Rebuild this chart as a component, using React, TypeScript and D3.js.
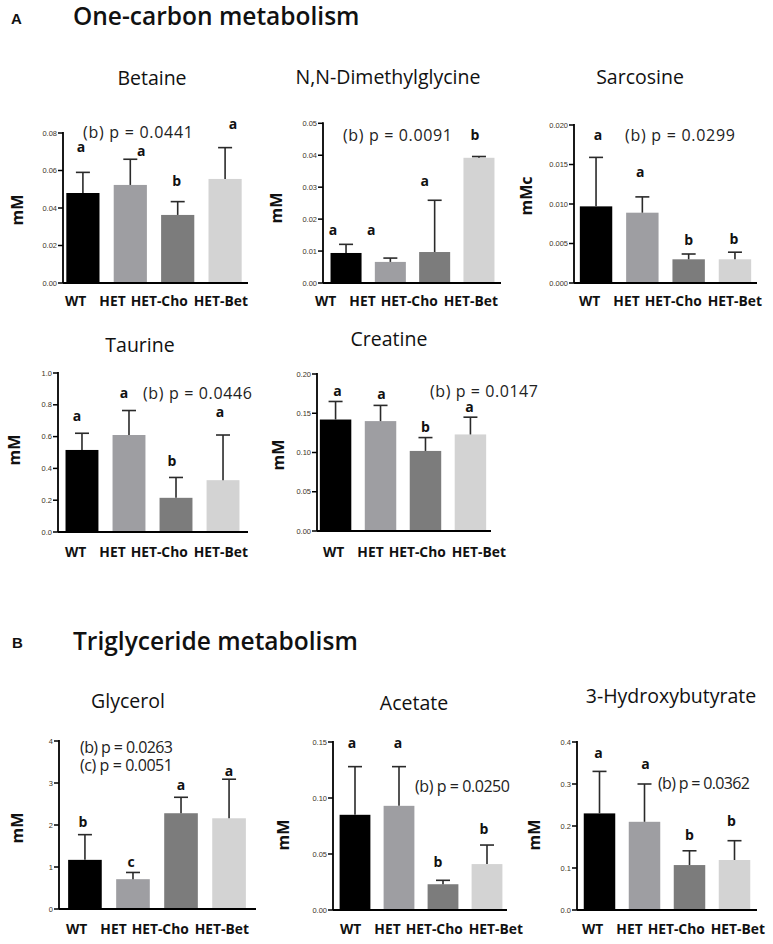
import React from "react";
import * as d3 from "d3";

// ---------- data ----------
const categories = ["WT", "HET", "HET-Cho", "HET-Bet"];

const betaineMean = [0.048, 0.0523, 0.0363, 0.0555];
const betaineSD = [0.011, 0.0137, 0.0071, 0.0167];
const betaineLetters = ["a", "a", "b", "a"];
const betaineLetterY = [0.0699, 0.0677, 0.0517, 0.0821];
const betaineP = ["(b) p = 0.0441"];

const dmgMean = [0.0094, 0.0066, 0.0097, 0.0392];
const dmgSD = [0.0027, 0.0012, 0.0162, 0.0004];
const dmgLetters = ["a", "a", "a", "b"];
const dmgLetterY = [0.015, 0.015, 0.0304, 0.0448];
const dmgP = ["(b) p = 0.0091"];

const sarcMean = [0.0097, 0.0089, 0.003, 0.003];
const sarcSD = [0.0062, 0.002, 0.00067, 0.0009];
const sarcLetters = ["a", "a", "b", "b"];
const sarcLetterY = [0.0181, 0.0134, 0.0048, 0.0049];
const sarcP = ["(b) p = 0.0299"];

const taurineMean = [0.516, 0.61, 0.215, 0.326];
const taurineSD = [0.105, 0.154, 0.128, 0.284];
const taurineLetters = ["a", "a", "b", "a"];
const taurineLetterY = [0.698, 0.843, 0.415, 0.723];
const taurineP = ["(b) p = 0.0446"];

const creatineMean = [0.142, 0.14, 0.102, 0.123];
const creatineSD = [0.023, 0.02, 0.017, 0.022];
const creatineLetters = ["a", "a", "b", "a"];
const creatineLetterY = [0.172, 0.168, 0.126, 0.152];
const creatineP = ["(b) p = 0.0147"];

const glycerolMean = [1.17, 0.71, 2.28, 2.16];
const glycerolSD = [0.6, 0.16, 0.38, 0.93];
const glycerolLetters = ["b", "c", "a", "a"];
const glycerolLetterY = [1.95, 1.0, 2.83, 3.17];
const glycerolP = ["(b) p = 0.0263", "(c) p = 0.0051"];

const acetateMean = [0.085, 0.093, 0.023, 0.041];
const acetateSD = [0.043, 0.035, 0.0035, 0.017];
const acetateLetters = ["a", "a", "b", "b"];
const acetateLetterY = [0.1446, 0.1446, 0.0384, 0.0679];
const acetateP = ["(b) p = 0.0250"];

const hbMean = [0.23, 0.21, 0.107, 0.119];
const hbSD = [0.1, 0.09, 0.034, 0.046];
const hbLetters = ["a", "a", "b", "b"];
const hbLetterY = [0.362, 0.336, 0.167, 0.2];
const hbP = ["(b) p = 0.0362"];

// ---------- styles ----------
const barColors = ["#000000", "#9e9ea2", "#7c7c7c", "#d3d3d3"];
const FONT = "'Open Sans', 'Liberation Sans', sans-serif";

type Layout = {
  left: number; right: number; axisEnd: number; top: number; bottom: number; padOuter: number;
  titleX: number; titleY: number; yLabX: number; yLabY: number;
  pX: number; pY: number; pSize: number; pLen: number; catX: number; catY: number; letterDx: number[];
};

type Panel = {
  title: string; yLabel: string; mean: number[]; sd: number[]; letters: string[]; letterY: number[];
  pText: string[]; max: number; step: number; fmt: string; layout: Layout;
};

const panels: Panel[] = [
  {
    title: "Betaine", yLabel: "mM", mean: betaineMean, sd: betaineSD, letters: betaineLetters, letterY: betaineLetterY,
    pText: betaineP, max: 0.08, step: 0.02, fmt: ".2f",
    layout: { left: 63, right: 245, axisEnd: 248, top: 133, bottom: 283, padOuter: 0.07, titleX: 152, titleY: 85, yLabX: 17, yLabY: 210,
      pX: 83, pY: 138, pSize: 14, pLen: 110, catX: 65, catY: 306, letterDx: [-2, 11, -1, 8] },
  },
  {
    title: "N,N-Dimethylglycine", yLabel: "mM", mean: dmgMean, sd: dmgSD, letters: dmgLetters, letterY: dmgLetterY,
    pText: dmgP, max: 0.05, step: 0.01, fmt: ".2f",
    layout: { left: 323, right: 502, axisEnd: 501, top: 123.3, bottom: 283, padOuter: 0.17, titleX: 388, titleY: 84, yLabX: 276, yLabY: 208,
      pX: 343, pY: 141, pSize: 14, pLen: 109, catX: 315, catY: 306, letterDx: [-13, -19, -10, -4] },
  },
  {
    title: "Sarcosine", yLabel: "mMc", mean: sarcMean, sd: sarcSD, letters: sarcLetters, letterY: sarcLetterY,
    pText: sarcP, max: 0.02, step: 0.005, fmt: ".3f",
    layout: { left: 574, right: 757, axisEnd: 757, top: 125, bottom: 283, padOuter: 0.126, titleX: 640, titleY: 84, yLabX: 526, yLabY: 196,
      pX: 625, pY: 141, pSize: 14, pLen: 110, catX: 579, catY: 306, letterDx: [2, -2, 0, -1] },
  },
  {
    title: "Taurine", yLabel: "mM", mean: taurineMean, sd: taurineSD, letters: taurineLetters, letterY: taurineLetterY,
    pText: taurineP, max: 1.0, step: 0.2, fmt: ".1f",
    layout: { left: 58, right: 247, axisEnd: 248, top: 373, bottom: 532, padOuter: 0.16, titleX: 140, titleY: 352, yLabX: 14, yLabY: 450,
      pX: 143, pY: 399, pSize: 14, pLen: 109, catX: 65, catY: 557, letterDx: [-5, -5, -4, -3] },
  },
  {
    title: "Creatine", yLabel: "mM", mean: creatineMean, sd: creatineSD, letters: creatineLetters, letterY: creatineLetterY,
    pText: creatineP, max: 0.2, step: 0.05, fmt: ".2f",
    layout: { left: 317, right: 489, axisEnd: 491, top: 374, bottom: 531, padOuter: 0.063, titleX: 389, titleY: 346, yLabX: 278, yLabY: 455,
      pX: 430, pY: 397, pSize: 14, pLen: 108, catX: 323, catY: 557, letterDx: [2, 1, 0, -1] },
  },
  {
    title: "Glycerol", yLabel: "mM", mean: glycerolMean, sd: glycerolSD, letters: glycerolLetters, letterY: glycerolLetterY,
    pText: glycerolP, max: 4, step: 1, fmt: ".0f",
    layout: { left: 59, right: 255, axisEnd: 256, top: 741, bottom: 909, padOuter: 0.19, titleX: 128, titleY: 708, yLabX: 17, yLabY: 828,
      pX: 80, pY: 753, pSize: 12, pLen: 93, catX: 66, catY: 934, letterDx: [-2, -2, 0, 0] },
  },
  {
    title: "Acetate", yLabel: "mM", mean: acetateMean, sd: acetateSD, letters: acetateLetters, letterY: acetateLetterY,
    pText: acetateP, max: 0.15, step: 0.05, fmt: ".2f",
    layout: { left: 333, right: 509, axisEnd: 507, top: 742, bottom: 910, padOuter: 0.15, titleX: 414, titleY: 710, yLabX: 283, yLabY: 835,
      pX: 415, pY: 792, pSize: 12, pLen: 95, catX: 340, catY: 934, letterDx: [-3, -1, -5, -3] },
  },
  {
    title: "3-Hydroxybutyrate", yLabel: "mM", mean: hbMean, sd: hbSD, letters: hbLetters, letterY: hbLetterY,
    pText: hbP, max: 0.4, step: 0.1, fmt: ".1f",
    layout: { left: 577, right: 757, axisEnd: 757, top: 742, bottom: 910, padOuter: 0.15, titleX: 671, titleY: 703, yLabX: 534, yLabY: 835,
      pX: 658, pY: 789, pSize: 12, pLen: 92, catX: 582, catY: 934, letterDx: [-1, 1, 0, -3] },
  },
];

const labelGaps = [0, 13, 5, 6];

function BarPanel({ p }: { p: Panel }) {
  const L = p.layout;
  const x = d3.scaleBand<string>().domain(categories).range([L.left, L.right]).paddingInner(0.3).paddingOuter(L.padOuter);
  const y = d3.scaleLinear().domain([0, p.max]).range([L.bottom, L.top]);
  const ticks = d3.range(0, p.max + p.step / 2, p.step);
  const fmt = d3.format(p.fmt);
  const bw = x.bandwidth();
  return (
    <g>
      <text x={L.titleX} y={L.titleY} textAnchor="middle" fontFamily={FONT} fontSize={19.5} fill="#111">{p.title}</text>
      <text transform={`translate(${L.yLabX},${L.yLabY}) rotate(-90)`} textAnchor="middle" dominantBaseline="central"
        fontFamily={FONT} fontWeight={700} fontSize={16} fill="#111">{p.yLabel}</text>
      {categories.map((c, i) => {
        const cx = (x(c) as number) + bw / 2;
        const yt = y(p.mean[i]);
        const ye = y(p.mean[i] + p.sd[i]);
        return (
          <g key={c}>
            <rect x={x(c)} y={yt} width={bw} height={L.bottom - yt} fill={barColors[i]} />
            <line x1={cx} x2={cx} y1={yt} y2={ye} stroke="#2a2a2a" strokeWidth={1.6} />
            <line x1={cx - 7} x2={cx + 7} y1={ye} y2={ye} stroke="#2a2a2a" strokeWidth={1.6} />
            <text x={cx + L.letterDx[i]} y={y(p.letterY[i])} textAnchor="middle" fontFamily={FONT} fontWeight={700}
              fontSize={14} fill="#111">{p.letters[i]}</text>
          </g>
        );
      })}
      <line x1={L.left} x2={L.left} y1={L.top - 1} y2={L.bottom} stroke="#000" strokeWidth={1.8} />
      <line x1={L.left} x2={L.axisEnd} y1={L.bottom} y2={L.bottom} stroke="#000" strokeWidth={1.8} />
      {ticks.map((t) => (
        <g key={t}>
          <line x1={L.left - 5} x2={L.left} y1={y(t)} y2={y(t)} stroke="#000" strokeWidth={1.5} />
          <text x={L.left - 6} y={y(t)} textAnchor="end" dominantBaseline="central" fontFamily="'Liberation Sans', Arial, sans-serif"
            fontSize={7.5} fill="#3e3424">{fmt(t)}</text>
        </g>
      ))}
      {p.pText.map((s, i) => (
        <text key={s} x={L.pX} y={L.pY + i * 18} fontFamily={FONT} fontSize={p.pSize} textLength={L.pLen}
          lengthAdjust="spacing" fill="#222">{s}</text>
      ))}
      <text x={L.catX} y={L.catY} fontFamily={FONT} fontWeight={700} fontSize={13.8} fill="#111">
        {categories.map((c, i) => (
          <tspan key={c} dx={labelGaps[i]}>{c}</tspan>
        ))}
      </text>
    </g>
  );
}

export default function App() {
  return (
    <svg width={773} height={944} style={{ position: "absolute", left: 0, top: 0, display: "block", background: "#fff" }}>
      <rect width={773} height={944} fill="#fff" />
      <text x={11} y={24} fontFamily="'Liberation Sans', Arial, sans-serif" fontWeight={700} fontSize={15} fill="#111">A</text>
      <text x={73} y={25} fontFamily={FONT} fontWeight={600} fontSize={24.5} fill="#111">One-carbon metabolism</text>
      <text x={12} y={648} fontFamily="'Liberation Sans', Arial, sans-serif" fontWeight={700} fontSize={15} fill="#111">B</text>
      <text x={73} y={650} fontFamily={FONT} fontWeight={600} fontSize={24.5} fill="#111">Triglyceride metabolism</text>
      {panels.map((p) => (
        <BarPanel key={p.title} p={p} />
      ))}
    </svg>
  );
}
